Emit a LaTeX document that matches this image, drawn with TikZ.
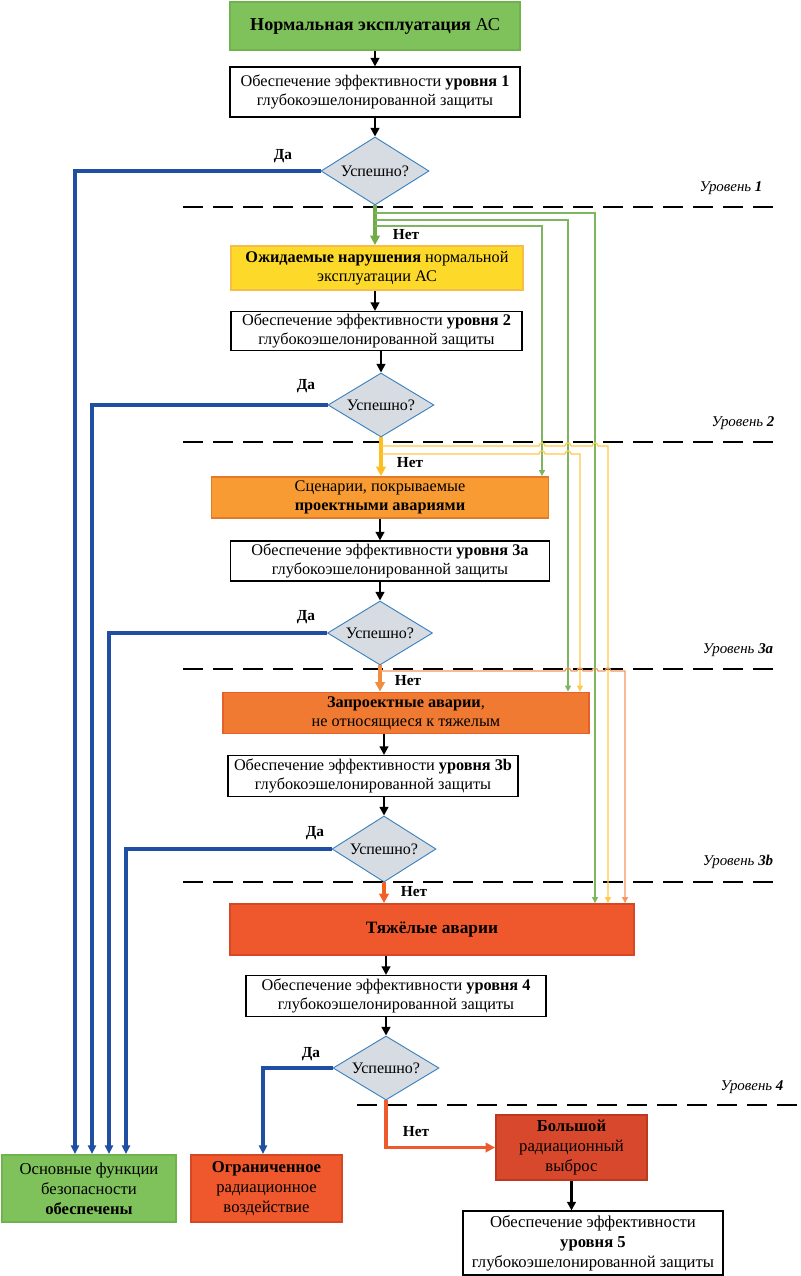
\documentclass[tikz,border=0pt]{standalone}
\usepackage{fontspec}
\setmainfont{Liberation Serif}
\usetikzlibrary{arrows.meta,shapes.geometric,calc}
\definecolor{gfill}{RGB}{127,193,90}
\definecolor{gdraw}{RGB}{112,178,78}
\definecolor{yfill}{RGB}{253,217,42}
\definecolor{ydraw}{RGB}{246,190,72}
\definecolor{ofill}{RGB}{247,155,50}
\definecolor{odraw}{RGB}{226,122,42}
\definecolor{o2fill}{RGB}{241,122,50}
\definecolor{o2draw}{RGB}{230,96,44}
\definecolor{rfill}{RGB}{239,88,44}
\definecolor{rdraw}{RGB}{214,72,36}
\definecolor{mfill}{RGB}{216,72,44}
\definecolor{mdraw}{RGB}{190,56,32}
\definecolor{dfill}{RGB}{214,220,226}
\definecolor{ddraw}{RGB}{60,130,190}
\definecolor{blueline}{RGB}{31,78,162}
\definecolor{gline}{RGB}{112,173,71}
\definecolor{gthinc}{RGB}{125,182,95}
\definecolor{yline}{RGB}{253,190,30}
\definecolor{ythinc}{RGB}{255,200,70}
\definecolor{oline}{RGB}{242,140,60}
\definecolor{othinc}{RGB}{244,150,95}
\definecolor{rline}{RGB}{238,90,46}
\begin{document}
\begin{tikzpicture}[x=0.75pt,y=-0.75pt,
  txt/.style={font=\fontsize{12.2}{14}\selectfont},
  box/.style={rectangle,draw=black,line width=0.8pt,fill=white,inner sep=0pt,align=center,txt},
  cbox/.style={rectangle,line width=1.4pt,inner sep=0pt,align=center,txt},
  tall/.style={font=\fontsize{12.5}{15}\selectfont},
  dia/.style={diamond,draw=ddraw,line width=0.7pt,fill=dfill,inner sep=0pt,aspect=1.6,font=\fontsize{12}{13}\selectfont},
  lbl/.style={font=\fontsize{11.5}{12}\selectfont\bfseries},
  lvl/.style={font=\fontsize{11.2}{12}\selectfont\itshape},
  levelline/.style={line width=1.9pt,dash pattern=on 15pt off 7.5pt},
  blk/.style={line width=2.2pt,-{Triangle[length=6.5pt,width=6.5pt]}},
  yes/.style={blueline,line width=2.6pt,-{Triangle[length=6.5pt,width=6pt]}},
  thick arr/.style={line width=2.6pt,-{Triangle[length=7pt,width=7pt]}},
  thin arr/.style={line width=0.9pt,-{Triangle[length=4.5pt,width=4.5pt]}}
]
\useasboundingbox (0,0) rectangle (800,1276);
% nodes
\node[cbox,fill=gfill,draw=gdraw,minimum width=290*0.75pt,minimum height=48*0.75pt,font=\fontsize{13.6}{15}\selectfont] (A) at (375,26) {\textbf{Нормальная эксплуатация} АС};
\node[box,minimum width=290*0.75pt,minimum height=50*0.75pt] (B) at (375,92) {Обеспечение эффективности \textbf{уровня 1}\\глубокоэшелонированной защиты};
\node[dia,minimum width=108*0.75pt,minimum height=68*0.75pt] (D1) at (375,171) {Успешно?};
\node[cbox,fill=yfill,draw=ydraw,minimum width=292*0.75pt,minimum height=44*0.75pt] (C) at (377,268) {\textbf{Ожидаемые нарушения} нормальной\\эксплуатации АС};
\node[box,minimum width=291*0.75pt,minimum height=39*0.75pt] (D) at (376.5,331) {Обеспечение эффективности \textbf{уровня 2}\\глубокоэшелонированной защиты};
\node[dia,minimum width=106*0.75pt,minimum height=64*0.75pt] (D2) at (381,405) {Успешно?};
\node[cbox,fill=ofill,draw=odraw,minimum width=337*0.75pt,minimum height=41*0.75pt] (E) at (380,497.5) {Сценарии, покрываемые\\\textbf{проектными авариями}};
\node[box,minimum width=319*0.75pt,minimum height=40*0.75pt] (F) at (390,561) {Обеспечение эффективности \textbf{уровня 3а}\\глубокоэшелонированной защиты};
\node[dia,minimum width=105*0.75pt,minimum height=64*0.75pt] (D3) at (380,633) {Успешно?};
\node[cbox,fill=o2fill,draw=o2draw,minimum width=366*0.75pt,minimum height=41*0.75pt] (G) at (406,713) {\textbf{Запроектные аварии},\\не относящиеся к тяжелым};
\node[box,minimum width=290*0.75pt,minimum height=41*0.75pt] (H) at (373,776) {Обеспечение эффективности \textbf{уровня 3b}\\глубокоэшелонированной защиты};
\node[dia,minimum width=104*0.75pt,minimum height=66*0.75pt] (D4) at (384,849) {Успешно?};
\node[cbox,fill=rfill,draw=rdraw,minimum width=404*0.75pt,minimum height=51*0.75pt,font=\fontsize{13}{15}\selectfont] (I) at (432,929.5) {\textbf{Тяжёлые аварии}};
\node[box,minimum width=300*0.75pt,minimum height=41*0.75pt] (J) at (396,996) {Обеспечение эффективности \textbf{уровня 4}\\глубокоэшелонированной защиты};
\node[dia,minimum width=106*0.75pt,minimum height=64*0.75pt] (D5) at (386,1068) {Успешно?};
\node[cbox,fill=mfill,draw=mdraw,minimum width=151*0.75pt,minimum height=65*0.75pt,tall] (M) at (571.5,1147.5) {\textbf{Большой}\\радиационный\\выброс};
\node[box,minimum width=260*0.75pt,minimum height=64*0.75pt,tall] (N) at (593,1243) {Обеспечение эффективности\\\textbf{уровня 5}\\глубокоэшелонированной защиты};
\node[cbox,fill=gfill,draw=gdraw,minimum width=174*0.75pt,minimum height=67*0.75pt,tall] (K) at (89,1188.5) {Основные функции\\безопасности\\\textbf{обеспечены}};
\node[cbox,fill=rfill,draw=rdraw,minimum width=151*0.75pt,minimum height=67*0.75pt,tall] (L) at (266.5,1188.5) {\textbf{Ограниченное}\\радиационное\\воздействие};
% level lines
\draw[levelline] (183,207) -- (775,207);
\draw[levelline] (183,442) -- (775,442);
\draw[levelline] (183,669) -- (775,669);
\draw[levelline] (183,882) -- (775,882);
\draw[levelline] (357,1105) -- (800,1105);
\node[lvl] (lv1) at (731,188) {Уровень \textbf{1}};
\node[lvl] (lv2) at (743,423) {Уровень \textbf{2}};
\node[lvl] (lv3) at (738,650) {Уровень \textbf{3а}};
\node[lvl] (lv4) at (738,862) {Уровень \textbf{3b}};
\node[lvl] (lv5) at (752,1087) {Уровень \textbf{4}};
% black arrows
\draw[blk] (A.south) -- (B.north);
\draw[blk] (B.south) -- (D1.north);
\draw[blk] (D1.north |- C.south) -- (D1.north |- D.north);
\draw[blk] (D2.north |- D.south) -- (D2.north);
\draw[blk] (D3.north |- E.south) -- (D3.north |- F.north);
\draw[blk] (D3.north |- F.south) -- (D3.north);
\draw[blk] (D4.north |- G.south) -- (D4.north |- H.north);
\draw[blk] (D4.north |- H.south) -- (D4.north);
\draw[blk] (D5.north |- I.south) -- (D5.north |- J.north);
\draw[blk] (D5.north |- J.south) -- (D5.north);
\draw[blk] (M.south) -- (M.south |- N.north);
% yes branches
\draw[yes] (D1.west) -| (K.north -| 75,0);
\draw[yes] (D2.west) -| (K.north -| 92,0);
\draw[yes] (D3.west) -| (K.north -| 109,0);
\draw[yes] (D4.west) -| (K.north -| 126,0);
\draw[yes] (D5.west) -| (L.north -| 263,0);
\node[lbl] (y1) at (283,156) {Да};
\node[lbl] (y2) at (306,386) {Да};
\node[lbl] (y3) at (306,617) {Да};
\node[lbl] (y4) at (315,833) {Да};
\node[lbl] (y5) at (311,1054) {Да};
% no branches
\draw[thick arr,gline] (D1.south) -- (D1.south |- C.north);
\draw[thick arr,yline] (D2.south) -- (D2.south |- E.north);
\draw[thick arr,oline] (D3.south) -- (D3.south |- G.north);
\draw[thick arr,rline!85!orange] (D4.south) -- (D4.south |- I.north);
\draw[thick arr,rline] (D5.south) |- (M.west);
\node[lbl] (n1) at (406,235) {Нет};
\node[lbl] (n2) at (410,463) {Нет};
\node[lbl] (n3) at (408,681) {Нет};
\node[lbl] (n4) at (414,892) {Нет};
\node[lbl] (n5) at (416,1132) {Нет};
% bypass lines
\draw[thin arr,gthinc] (D1.south |- 0,213) -| (I.north -| 595,0);
\draw[thin arr,gthinc] (D1.south |- 0,220) -| (G.north -| 568,0);
\draw[thin arr,gthinc] (D1.south |- 0,226) -| (E.north -| 542,0);
\draw[thin arr,ythinc] (D2.south |- 0,446) -- (539,446) arc[start angle=180,end angle=360,radius=3]
  -- (565,446) arc[start angle=180,end angle=360,radius=3]
  -- (592,446) arc[start angle=180,end angle=360,radius=3]
  -| (I.north -| 608,0);
\draw[thin arr,ythinc] (D2.south |- 0,454) -- (539,454) arc[start angle=180,end angle=360,radius=3]
  -- (565,454) arc[start angle=180,end angle=360,radius=3]
  -| (G.north -| 580,0);
\draw[thin arr,othinc] (D3.south |- 0,671) -- (565,671) arc[start angle=180,end angle=360,radius=3]
  -- (577,671) arc[start angle=180,end angle=360,radius=3]
  -- (592,671) arc[start angle=180,end angle=360,radius=3]
  -- (605,671) arc[start angle=180,end angle=360,radius=3]
  -| (I.north -| 625,0);
\end{tikzpicture}
\end{document}
